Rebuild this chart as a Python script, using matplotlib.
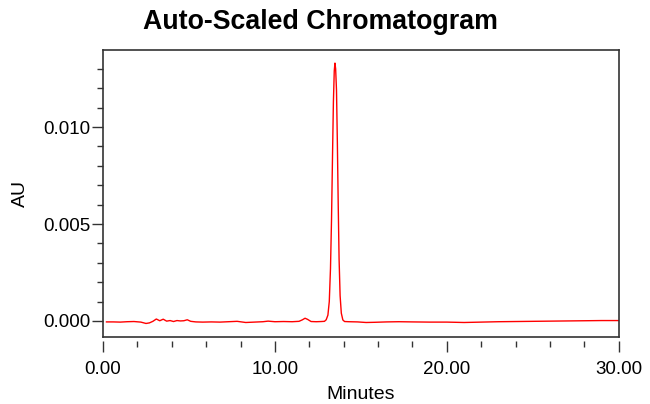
import matplotlib
matplotlib.use('Agg')
import matplotlib.pyplot as plt
from matplotlib.ticker import MultipleLocator, FormatStrFormatter
from matplotlib.lines import Line2D

# chromatogram trace (minutes, AU)
minutes = [
    0.2, 0.6, 1.0, 1.4, 1.8, 2.2, 2.5, 2.7, 2.9, 3.1, 3.3, 3.5, 3.7, 3.9,
    4.1, 4.3, 4.5, 4.7, 4.9, 5.1, 5.4, 5.8, 6.3, 6.8, 7.3, 7.8, 8.3, 8.8,
    9.3, 9.6, 10.0, 10.5, 11.0, 11.4, 11.6, 11.75, 11.9, 12.1, 12.4, 12.7,
    12.88, 12.98, 13.08, 13.16, 13.23, 13.29, 13.35, 13.40, 13.45, 13.49,
    13.53, 13.58, 13.63, 13.68, 13.73, 13.79, 13.86, 13.95, 14.05,
    14.3, 14.8, 15.3, 15.8, 16.5, 17.2, 18.0, 19.0, 20.0, 21.0, 22.0,
    23.0, 24.0, 25.0, 26.0, 27.0, 28.0, 29.0, 30.0,
]
au = [
    -0.00005, -0.00005, -0.00006, -0.00004, -0.00003, -0.00006, -0.00013,
    -0.00010, -0.00002, 0.00010, 0.00001, 0.00009, -0.00001, 0.00002,
    -0.00003, 0.00002, 0.00000, 0.00001, 0.00006, -0.00002, -0.00005,
    -0.00006, -0.00005, -0.00006, -0.00004, -0.00002, -0.00008, -0.00006,
    -0.00004, -0.00001, -0.00004, -0.00003, -0.00004, -0.00002, 0.00006,
    0.00014, 0.00008, -0.00003, -0.00004, -0.00003,
    -0.00002, 0.00006, 0.0003, 0.0010, 0.0027, 0.0052, 0.0086, 0.0113,
    0.0129, 0.0133, 0.0130, 0.0119, 0.0092, 0.0060, 0.0032, 0.0013,
    0.0004, 0.00005, -0.00003,
    -0.00004, -0.00005, -0.00008, -0.00007, -0.00005, -0.00004, -0.00005,
    -0.00006, -0.00006, -0.00008, -0.00006, -0.00004, -0.00003, -0.00002,
    -0.00001, 0.00000, 0.00001, 0.00002, 0.00002,
]

plt.rcParams['font.family'] = ['Liberation Sans', 'DejaVu Sans']

fig = plt.figure(figsize=(6.5, 4.04), dpi=100)
ax = fig.add_axes([0.1585, 0.166, 0.7935, 0.710])

ax.plot(minutes, au, color='red', lw=1.0)

ax.set_xlim(0, 30)
ax.set_ylim(-0.000825, 0.01397)

ax.xaxis.set_major_locator(MultipleLocator(10))
ax.xaxis.set_minor_locator(MultipleLocator(2))
ax.xaxis.set_major_formatter(FormatStrFormatter('%.2f'))
ax.yaxis.set_major_locator(MultipleLocator(0.005))
ax.yaxis.set_minor_locator(MultipleLocator(0.001))
ax.yaxis.set_major_formatter(FormatStrFormatter('%.3f'))

ax.tick_params(which='major', direction='out', length=8, width=1,
               labelsize=13.5, color='#333333')
ax.tick_params(which='minor', direction='out', length=4, width=1,
               color='#333333')
ax.tick_params(axis='y', which='both', pad=1)
ax.tick_params(axis='x', which='major', pad=6)

# x ticks sit a little below the frame
ax.spines['bottom'].set_position(('outward', 3))
ax.spines['bottom'].set_color('none')
for s in ['top', 'left', 'right']:
    ax.spines[s].set_color('#333333')
    ax.spines[s].set_linewidth(1.2)
ax.add_line(Line2D([0, 1], [0, 0], transform=ax.transAxes, color='#333333',
                   lw=1.2, clip_on=False))

ax.set_xlabel('Minutes', fontsize=14, labelpad=6)
ax.set_ylabel('AU', fontsize=14, labelpad=10)

fig.text(0.493, 0.927, 'Auto-Scaled Chromatogram', ha='center', va='baseline',
         fontsize=19.3, fontweight='bold')

fig.savefig('out.png', dpi=100)
